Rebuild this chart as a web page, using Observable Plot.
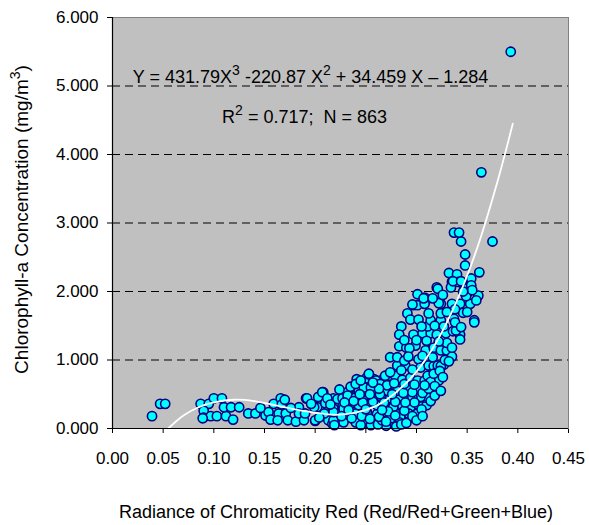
<!DOCTYPE html>
<html><head><meta charset="utf-8">
<script src="https://cdn.jsdelivr.net/npm/d3@7"></script>
<script src="https://cdn.jsdelivr.net/npm/@observablehq/plot@0.6"></script>
<style>body{margin:0;background:#fff;} svg{display:block;}</style>
</head><body><div id="chart"></div>
<script>
// Scatter points (radiance of chromaticity red, chlorophyll-a mg/m3)
const pointX = [
0.039,0.047,0.052,0.087,0.095,0.090,0.090,0.097,0.103,0.112,0.119,0.100,0.108,0.110,0.117,0.125,0.134,0.141,0.089,
0.151,0.154,0.159,0.166,0.167,0.164,0.156,0.163,0.171,0.173,0.181,0.184,0.184,0.189,0.191,0.190,0.200,0.202,0.203,
0.208,0.210,0.217,0.218,0.222,0.213,0.217,0.220,0.227,0.232,0.233,0.238,0.241,0.250,0.253,0.258,0.264,0.269,0.274,
0.192,0.207,0.212,0.199,0.218,0.200,0.228,0.227,0.218,0.228,0.240,0.250,0.258,0.264,0.277,0.284,0.292,0.261,0.251,
0.240,0.271,0.281,0.301,0.218,0.235,0.243,0.251,0.261,0.269,0.277,0.286,0.294,0.302,0.310,0.232,0.240,0.248,0.256,
0.266,0.274,0.284,0.292,0.301,0.309,0.235,0.243,0.251,0.261,0.271,0.281,0.291,0.302,0.240,0.248,0.255,0.245,0.260,
0.264,0.271,0.253,0.269,0.279,0.286,0.294,0.301,0.308,0.314,0.320,0.311,0.274,0.281,0.289,0.302,0.304,0.312,0.317,
0.321,0.327,0.274,0.281,0.288,0.283,0.290,0.299,0.293,0.309,0.317,0.324,0.330,0.285,0.283,0.297,0.306,0.314,0.320,
0.329,0.336,0.343,0.311,0.291,0.294,0.302,0.314,0.324,0.324,0.337,0.297,0.301,0.308,0.324,0.335,0.343,0.346,0.338,
0.301,0.308,0.320,0.335,0.345,0.334,0.349,0.332,0.340,0.341,0.336,0.344,0.354,0.354,0.321,0.361,0.296,0.307,0.322,
0.353,0.362,0.348,0.348,0.344,0.337,0.342,0.375,0.364,0.393,0.322,0.314,0.324,0.311,0.304,0.296,0.286,0.301,0.292,
0.284,0.283,0.219,0.255,0.270,0.280,0.285,0.262,0.245,0.290,0.275,0.266,0.351,0.359,0.357,0.349,0.339,0.335,0.330,
0.343,0.357,
0.236,0.246,0.254,0.263,0.272,0.279,0.288,0.296,0.305,0.298,0.289,0.279,0.268,0.257,0.247,0.238,0.229,0.244,0.254,
0.264,0.276,0.287,0.296,0.306,0.312,0.318,0.317,0.323,0.328,0.296,0.285,0.292,0.306,0.316,0.300,0.310,0.322,0.288,
0.305,0.318,0.327,0.312,0.330,0.316,0.326,0.263,0.257,0.278,0.288,0.298,0.308,0.226,0.209,0.204,0.196,0.176,0.146,
0.170,0.224,0.215,0.233,0.266,0.250,0.300,0.306,0.270,0.314,0.318,0.324,0.326,0.332,0.335,0.338,0.344,0.350,0.355,
0.346
];
const pointY = [
0.18,0.36,0.36,0.36,0.36,0.26,0.16,0.18,0.18,0.18,0.13,0.44,0.44,0.31,0.31,0.31,0.22,0.22,0.15,
0.19,0.24,0.36,0.44,0.35,0.22,0.13,0.12,0.22,0.12,0.10,0.31,0.22,0.12,0.44,0.22,0.11,0.31,0.46,
0.53,0.37,0.22,0.44,0.43,0.12,0.07,0.09,0.32,0.53,0.41,0.60,0.72,0.73,0.79,0.72,0.70,0.65,0.77,
0.44,0.53,0.44,0.31,0.29,0.12,0.29,0.44,0.12,0.09,0.09,0.09,0.09,0.12,0.09,0.12,0.15,0.21,0.24,
0.22,0.21,0.21,0.22,0.24,0.36,0.34,0.34,0.34,0.32,0.31,0.32,0.31,0.34,0.34,0.48,0.45,0.45,0.45,
0.45,0.44,0.44,0.45,0.44,0.45,0.61,0.55,0.53,0.53,0.55,0.55,0.60,0.58,0.65,0.60,0.60,0.70,0.70,
0.65,0.63,0.80,0.77,0.77,0.71,0.74,0.70,0.70,0.70,0.70,0.77,0.82,0.92,0.92,1.01,0.89,0.92,0.91,
0.92,0.93,1.04,1.04,0.99,1.20,1.18,1.21,1.17,1.14,1.18,1.14,1.14,1.49,1.37,1.37,1.39,1.39,1.37,
1.39,1.42,1.37,1.49,1.68,1.59,1.59,1.58,1.58,1.68,1.60,1.80,1.80,1.82,1.82,1.82,1.82,1.69,1.74,
1.96,1.91,2.06,2.14,2.12,2.06,2.04,2.27,2.25,2.14,2.15,2.15,2.19,2.09,2.04,1.94,1.81,1.90,1.83,
1.82,2.28,2.54,2.38,2.73,2.86,2.86,2.73,3.74,5.50,0.70,0.68,0.91,0.46,0.46,0.46,0.34,0.22,0.22,
0.17,0.09,0.05,0.05,0.04,0.03,0.06,0.06,0.05,0.08,0.15,0.12,1.99,1.87,1.58,1.93,1.43,1.05,1.25,
1.30,1.55,
0.15,0.18,0.14,0.17,0.25,0.19,0.26,0.18,0.28,0.38,0.38,0.39,0.38,0.39,0.38,0.40,0.38,0.50,0.50,
0.50,0.50,0.52,0.53,0.52,0.58,0.62,0.80,0.84,1.00,0.86,0.85,1.05,1.06,1.04,1.29,1.28,1.27,1.29,
1.49,1.50,1.49,1.68,1.70,1.90,1.95,0.58,0.67,0.66,0.65,0.64,0.63,0.18,0.22,0.16,0.36,0.30,0.30,
0.42,0.57,0.35,0.27,0.27,0.28,0.12,0.18,0.10,0.40,0.48,0.55,0.75,0.98,1.18,1.55,1.48,1.70,2.02,
2.00
];
// White fitted curve
const fitX = [0.055,0.070,0.085,0.100,0.120,0.140,0.160,0.180,0.200,0.220,0.240,0.260,0.280,0.300,0.320,0.340,0.360,0.380,0.395];
const fitY = [0.00,0.19,0.31,0.38,0.42,0.40,0.34,0.28,0.23,0.20,0.23,0.33,0.53,0.83,1.27,1.87,2.64,3.61,4.45];
const xTicks = [0,0.05,0.10,0.15,0.20,0.25,0.30,0.35,0.40,0.45];
const yTicks = [0,1,2,3,4,5,6];
const gridY = [1,2,3,4,5];
const xTitle = "Radiance of Chromaticity Red (Red/Red+Green+Blue)";

const points = pointX.map((x, i) => ({x, y: pointY[i]}));
const fit = fitX.map((x, i) => ({x, y: fitY[i]}));

const plot = Plot.plot({
  width: 589, height: 525,
  marginLeft: 112, marginRight: 21, marginTop: 17, marginBottom: 97,
  style: {fontFamily: "'Liberation Sans', Arial, sans-serif", fontSize: "17px", color: "#000", background: "#fff"},
  x: {domain: [0, 0.45], ticks: xTicks, tickFormat: d3.format(".2f"), label: null, tickSize: 5, tickPadding: 18},
  y: {domain: [0, 6], ticks: yTicks, tickFormat: d3.format(".3f"), label: null, tickSize: 5, tickPadding: 9},
  marks: [
    Plot.frame({fill: "#c0c0c0", stroke: "#808080"}),
    Plot.ruleY(gridY, {stroke: "#000", strokeDasharray: "8,5", strokeWidth: 1}),
    Plot.dot(points, {x: "x", y: "y", r: 4.6, fill: "#00ffff", stroke: "#000080", strokeWidth: 1.6}),
    Plot.line(fit, {x: "x", y: "y", stroke: "#fff", strokeWidth: 1.8, curve: "catmull-rom"}),
    Plot.ruleX([0], {stroke: "#000", strokeWidth: 1.2}),
    Plot.ruleY([0], {stroke: "#000", strokeWidth: 1.2})
  ]
});
document.getElementById("chart").appendChild(plot);

const svg = d3.select(plot);
const sx = plot.scale("x"), sy = plot.scale("y");
const narrow = "'Liberation Sans Narrow', 'Arial Narrow', 'Liberation Sans', sans-serif";

// Equation annotation
const eq = svg.append("text")
  .attr("x", sx.apply(0.196)).attr("y", sy.apply(5.04))
  .attr("text-anchor", "middle").attr("font-family", narrow).attr("font-size", 18).attr("fill", "#000");
eq.append("tspan").text("Y = 431.79X");
eq.append("tspan").attr("dy", -8).attr("font-size", 14).text("3");
eq.append("tspan").attr("dy", 8).text(" -220.87 X");
eq.append("tspan").attr("dy", -8).attr("font-size", 14).text("2");
eq.append("tspan").attr("dy", 8).text(" + 34.459 X \u2013 1.284");

const r2 = svg.append("text")
  .attr("x", sx.apply(0.19)).attr("y", sy.apply(4.45))
  .attr("text-anchor", "middle").attr("font-family", narrow).attr("font-size", 18).attr("fill", "#000");
r2.append("tspan").text("R");
r2.append("tspan").attr("dy", -8).attr("font-size", 14).text("2");
r2.append("tspan").attr("dy", 8).text(" = 0.717;  N = 863");

// Axis titles
svg.append("text")
  .attr("x", (sx.range[0] + sx.range[1]) / 2 - 4).attr("y", 518)
  .attr("text-anchor", "middle").attr("font-size", 18).attr("fill", "#000")
  .text(xTitle);

const yt = svg.append("text")
  .attr("transform", `translate(28,${(sy.range[0] + sy.range[1]) / 2 - 3}) rotate(-90)`)
  .attr("text-anchor", "middle").attr("font-size", 19).attr("fill", "#000");
yt.append("tspan").text("Chlorophyll-a Concentration (mg/m");
yt.append("tspan").attr("dy", -8).attr("font-size", 14).text("3");
yt.append("tspan").attr("dy", 8).text(")");
</script>
</body></html>
